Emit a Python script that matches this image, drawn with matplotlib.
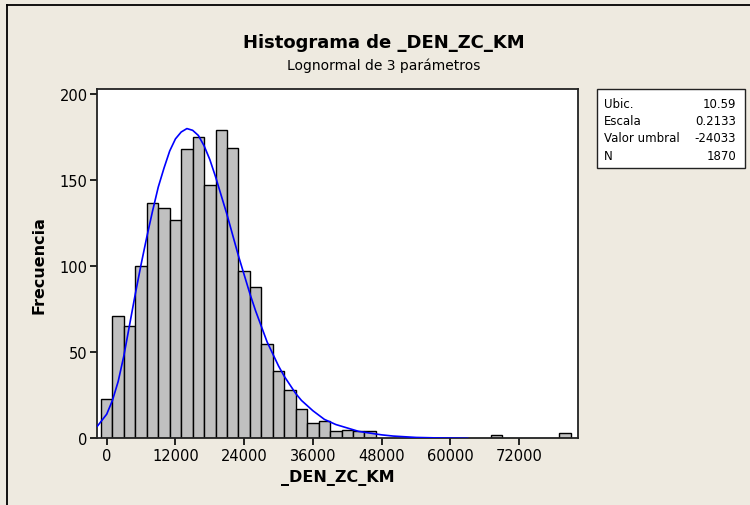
import matplotlib
matplotlib.use("Agg")
import matplotlib.pyplot as plt
from matplotlib.patches import Rectangle
from matplotlib.lines import Line2D

# histogram bins (center of each 2000-wide bin) and counts
bin_centers = [0, 2000, 4000, 6000, 8000, 10000, 12000, 14000, 16000, 18000,
               20000, 22000, 24000, 26000, 28000, 30000, 32000, 34000, 36000,
               38000, 40000, 42000, 44000, 46000, 68000, 80000]
counts = [23, 71, 65, 100, 137, 134, 127, 168, 175, 147,
          179, 169, 97, 88, 55, 39, 28, 17, 9,
          10, 4, 5, 4, 4, 2, 3]
bin_width = 2000

# fitted 3-parameter lognormal curve
curve_x = [-1640, 0, 1000, 2000, 3000, 4000, 5000, 6000, 7000, 8000, 9000,
           10000, 11000, 12000, 13000, 14000, 15000, 16000, 17000, 18000,
           19000, 20000, 21000, 22000, 23000, 24000, 25000, 26000, 27000,
           28000, 29000, 30000, 31000, 32000, 33000, 34000, 35000, 36000,
           38000, 40000, 42000, 44000, 46000, 48000, 50000, 54000, 58000, 63000]
curve_y = [7, 14, 22, 33, 48, 66, 84, 101, 117, 132, 146,
           157, 167, 174, 178, 180, 179, 176, 170, 162,
           152, 141, 130, 118, 106, 95, 84, 74, 65,
           56, 49, 42, 36, 31, 26, 22, 19, 16,
           11, 8, 6, 4, 3, 2, 1.3, 0.5, 0.2, 0]

x_ticks = [0, 12000, 24000, 36000, 48000, 60000, 72000]
y_ticks = [0, 50, 100, 150, 200]

stats_labels = ["Ubic.", "Escala", "Valor umbral", "N"]
stats_values = ["10.59", "0.2133", "-24033", "1870"]

W, H = 750, 506
bg = "#EEEAE0"

fig = plt.figure(figsize=(W / 100, H / 100), dpi=100, facecolor=bg)
ax = fig.add_axes([97.3 / W, 1 - 439.3 / H, 481 / W, 349.3 / H])
ax.set_facecolor("white")

ax.bar(bin_centers, counts, width=bin_width, color="#C0C0C0",
       edgecolor="black", linewidth=1.0, zorder=2)
ax.plot(curve_x, curve_y, color="#0000FF", linewidth=1.2, zorder=3)

ax.set_xlim(-1640, 82320)
ax.set_ylim(0, 203)
ax.set_xticks(x_ticks)
ax.set_yticks(y_ticks)
ax.set_xticklabels([str(t) for t in x_ticks])
ax.tick_params(axis="both", direction="out", length=5, width=1.2,
               labelsize=10.5, pad=2, colors="black")
for sp in ax.spines.values():
    sp.set_linewidth(1.3)
    sp.set_color("#222222")

ax.set_xlabel("_DEN_ZC_KM", fontsize=11.5, fontweight="bold", labelpad=4)
ax.set_ylabel("Frecuencia", fontsize=11.5, fontweight="bold", labelpad=9)

fig.text(384 / W, 1 - 43 / H, "Histograma de _DEN_ZC_KM", ha="center",
         va="center", fontsize=13, fontweight="bold")
fig.text(384 / W, 1 - 66 / H, "Lognormal de 3 parámetros", ha="center",
         va="center", fontsize=10)

# stats box
fig.add_artist(Rectangle((596.7 / W, 1 - 169 / H), 148.3 / W, 79 / H,
                         transform=fig.transFigure, facecolor="white",
                         edgecolor="#222222", linewidth=1.0))
rows_y = [105, 121.7, 138, 156]
for lab, val, yy in zip(stats_labels, stats_values, rows_y):
    fig.text(604 / W, 1 - yy / H, lab, ha="left", va="center", fontsize=8.5)
    fig.text(736 / W, 1 - yy / H, val, ha="right", va="center", fontsize=8.5)

# outer frame lines (top and left)
fig.add_artist(Line2D([7 / W, 1], [1 - 6 / H, 1 - 6 / H],
                      transform=fig.transFigure, color="black", linewidth=1.3))
fig.add_artist(Line2D([7 / W, 7 / W], [0, 1 - 6 / H],
                      transform=fig.transFigure, color="black", linewidth=1.3))

fig.savefig("out.png", dpi=100, facecolor=bg)
